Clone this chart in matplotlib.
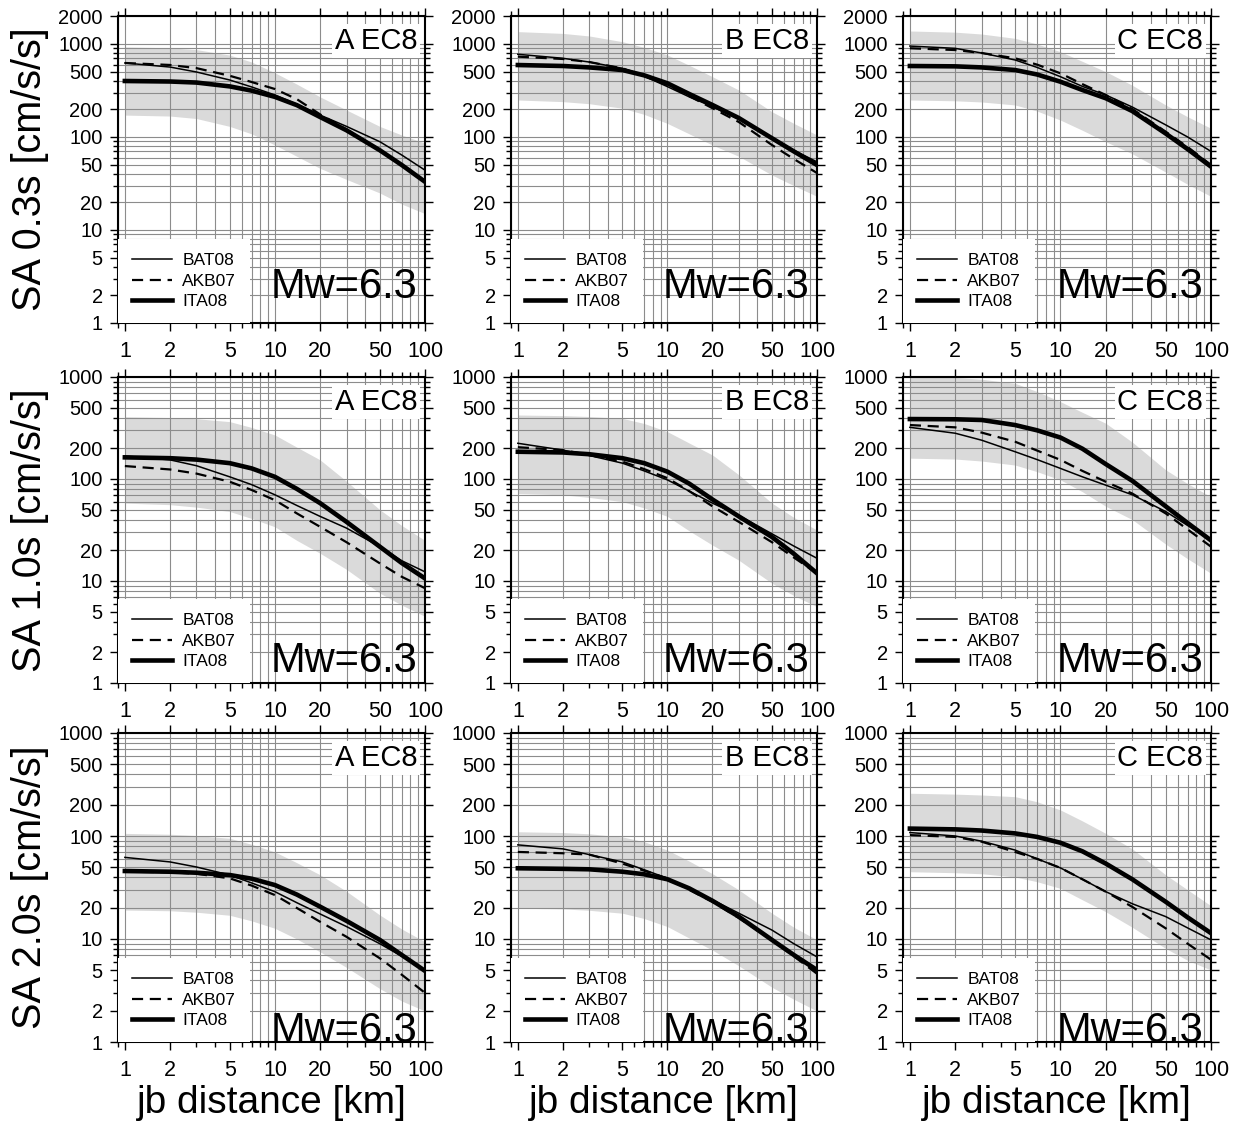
import numpy as np
import matplotlib
matplotlib.use("Agg")
import matplotlib.pyplot as plt
from matplotlib.ticker import FixedLocator, LogLocator, NullFormatter

plt.rcParams['font.family'] = ['Liberation Sans', 'DejaVu Sans']

# distances (km) the curves were read at
dist = [1, 2, 3, 5, 7, 10, 14, 20, 30, 50, 70, 100]
periods = ["0.3s", "1.0s", "2.0s"]
sites = ["A", "B", "C"]
xticks = [1, 2, 5, 10, 20, 50, 100]
yticks_top = [1, 2, 5, 10, 20, 50, 100, 200, 500, 1000, 2000]
yticks = [1, 2, 5, 10, 20, 50, 100, 200, 500, 1000]

# SA 0.3s  (sites A, B, C)
bat08_03 = [[625, 565, 500, 410, 345, 283, 225, 172, 130, 89, 64, 44],
            [775, 702, 640, 547, 450, 348, 270, 212, 155, 97, 72, 54],
            [950, 898, 800, 673, 560, 445, 350, 283, 210, 135, 100, 70]]
akb07_03 = [[625, 595, 550, 455, 390, 328, 255, 175, 120, 72, 50, 33],
            [731, 690, 640, 547, 455, 362, 275, 204, 145, 82, 58, 41],
            [900, 861, 800, 702, 600, 484, 370, 283, 200, 114, 78, 50]]
ita08_03 = [[400, 395, 385, 350, 315, 270, 220, 164, 118, 72, 50, 33],
            [594, 580, 560, 525, 460, 378, 290, 221, 160, 97, 70, 50],
            [580, 575, 560, 525, 470, 393, 320, 261, 190, 109, 74, 48]]
band_hi_03 = [[930, 910, 870, 760, 640, 490, 370, 270, 195, 130, 105, 86],
              [1358, 1300, 1220, 1059, 920, 762, 590, 445, 320, 187, 140, 105],
              [1380, 1340, 1280, 1150, 1000, 826, 650, 504, 360, 221, 165, 124]]
band_lo_03 = [[172, 168, 158, 130, 108, 82, 62, 46, 35, 25, 19, 15],
              [250, 240, 228, 204, 175, 140, 108, 82, 62, 39, 30, 23],
              [250, 245, 238, 221, 190, 152, 118, 89, 66, 42, 31, 23]]

# SA 1.0s
bat08_10 = [[168, 154, 135, 105, 88, 70, 55, 43, 33, 21.7, 15.8, 12.3],
            [224, 192, 170, 143, 120, 98, 76, 58, 44, 29, 22, 16.7],
            [321, 281, 240, 185, 155, 127, 105, 87, 70, 48, 35, 25]]
akb07_10 = [[134, 124, 113, 94, 78, 62, 46, 34, 24, 14.9, 11, 8.5],
            [205, 192, 172, 148, 125, 102, 76, 54, 38, 24, 17, 11.9],
            [338, 321, 285, 232, 190, 154, 120, 94, 72, 46, 32, 21.7]]
ita08_10 = [[163, 160, 155, 143, 127, 105, 80, 58, 38, 21.7, 15, 10.6],
            [185, 182, 175, 160, 143, 118, 90, 63, 43, 27, 18.5, 11.9],
            [387, 385, 379, 338, 300, 255, 198, 140, 96, 54, 37, 25]]
band_hi_10 = [[408, 400, 390, 365, 320, 270, 205, 154, 95, 50, 35, 25],
              [424, 418, 410, 393, 350, 291, 225, 172, 110, 58, 42, 31.6],
              [1000, 990, 950, 867, 720, 573, 450, 352, 230, 123, 90, 67]]
band_lo_10 = [[58, 56, 53, 48, 41, 34, 25, 18.7, 13, 7.6, 5.8, 4.5],
              [72, 70, 66, 60, 52, 43, 31, 22.5, 16, 9.5, 7.2, 5.6],
              [160, 157, 150, 137, 118, 98, 75, 54, 40, 23, 16.5, 11.9]]

# SA 2.0s
bat08_20 = [[62, 56, 50, 41.8, 35, 28.8, 22.5, 17.5, 13.2, 9.0, 6.8, 5.0],
            [82, 75, 66, 56, 47, 38.8, 30.5, 24, 17.8, 12.2, 9.0, 6.7],
            [108, 100, 89, 73, 60, 49, 38, 28.8, 22, 16.5, 12.8, 9.8]]
akb07_20 = [[45, 44.5, 43, 38.8, 33, 26.7, 20, 14.7, 10.5, 6.5, 4.5, 3.0],
            [70, 68, 66, 54, 46, 38.8, 30, 23, 16, 9.8, 6.8, 4.6],
            [102, 98, 88, 70, 60, 49, 38, 28.8, 20.5, 12.7, 9.0, 6.3]]
ita08_20 = [[45.7, 45, 44, 41.8, 38.5, 33.4, 27, 20.6, 15, 9.8, 7.0, 4.9],
            [48.6, 48, 47.5, 45, 42.5, 38, 31, 23.5, 16.5, 9.8, 7.0, 5.0],
            [118, 116, 113, 106, 98, 86, 71, 54, 38, 23, 16.2, 11.4]]
band_hi_20 = [[106, 104, 101, 95, 83, 70, 55, 42, 29, 17.1, 12.5, 9.4],
              [110, 108, 105, 98, 88, 73, 57, 43, 30, 17.8, 13, 9.8],
              [260, 255, 250, 241, 215, 179, 140, 106, 75, 42, 30, 21]]
band_lo_20 = [[19.1, 18.8, 18.2, 17, 15, 12.7, 10, 7.5, 5.3, 3.3, 2.5, 2.0],
              [19.9, 19.6, 19, 17.8, 15.8, 13.2, 10.2, 7.8, 5.5, 3.4, 2.6, 2.0],
              [45, 44, 43, 40, 36, 31, 24, 18.4, 13, 8.1, 6.2, 5.0]]

bat08 = [bat08_03, bat08_10, bat08_20]
akb07 = [akb07_03, akb07_10, akb07_20]
ita08 = [ita08_03, ita08_10, ita08_20]
band_hi = [band_hi_03, band_hi_10, band_hi_20]
band_lo = [band_lo_03, band_lo_10, band_lo_20]

W, H = 1235, 1123
fig = plt.figure(figsize=(W / 100, H / 100), dpi=100)

# panel frames in pixels
col_left = [118, 511, 903]
col_w = [307, 306, 308]
row_top = [16, 377, 733]
row_h = [307, 306, 309]
mw_y = [0.08, 0.036, 0.0]

for r in range(3):
    for c in range(3):
        ax = fig.add_axes([col_left[c] / W, 1 - (row_top[r] + row_h[r]) / H,
                           col_w[c] / W, row_h[r] / H])
        ax.set_xscale('log')
        ax.set_yscale('log')

        ax.fill_between(dist, band_lo[r][c], band_hi[r][c], color='#dadada',
                        lw=0, zorder=0.3)
        ax.plot(dist, bat08[r][c], color='k', lw=1.1, label='BAT08', zorder=3)
        ax.plot(dist, akb07[r][c], color='k', lw=1.6, ls=(0, (5, 3)),
                label='AKB07', zorder=3)
        ax.plot(dist, ita08[r][c], color='k', lw=3.3, label='ITA08', zorder=3,
                solid_joinstyle='round')

        ax.set_xlim(0.9, 100)
        yt = yticks_top if r == 0 else yticks
        ax.set_ylim(1, yt[-1])

        ax.xaxis.set_major_locator(FixedLocator(xticks))
        ax.set_xticklabels([str(v) for v in xticks])
        ax.xaxis.set_minor_locator(LogLocator(base=10, subs=np.arange(2, 10)))
        ax.xaxis.set_minor_formatter(NullFormatter())
        ax.yaxis.set_major_locator(FixedLocator(yt))
        ax.set_yticklabels([str(v) for v in yt])
        ax.yaxis.set_minor_locator(LogLocator(base=10, subs=np.arange(2, 10)))
        ax.yaxis.set_minor_formatter(NullFormatter())

        ax.grid(True, which='both', color='#8c8c8c', lw=0.8)
        ax.tick_params(which='both', direction='out', top=True, right=True,
                       width=1)
        ax.tick_params(which='major', length=6)
        ax.tick_params(which='minor', length=3.5)
        ax.tick_params(axis='x', labelsize=15.5, pad=7)
        ax.tick_params(axis='y', labelsize=14.5, pad=5)
        for s in ax.spines.values():
            s.set_linewidth(1.5)

        ax.legend(loc='lower left', fontsize=12.5, frameon=True, fancybox=False,
                  edgecolor='none', facecolor='white', framealpha=1,
                  borderaxespad=0, handlelength=2.3, handletextpad=0.6,
                  labelspacing=0.3, borderpad=0.8)

        ax.text(0.975, 0.965, sites[c] + " EC8", transform=ax.transAxes,
                ha='right', va='top', fontsize=21, zorder=6,
                bbox=dict(facecolor='white', edgecolor='none', pad=2))
        ax.text(0.975, mw_y[r], "Mw=6.3", transform=ax.transAxes,
                ha='right', va='baseline', fontsize=30, zorder=6, clip_on=True)

    fig.text(30 / W, 1 - (row_top[r] + row_h[r] / 2) / H,
             "SA " + periods[r] + " [cm/s/s]", rotation=90,
             ha='center', va='center', fontsize=28.5)

for c in range(3):
    fig.text((col_left[c] + col_w[c] / 2) / W, 1 - 1103 / H, "jb distance [km]",
             ha='center', va='center', fontsize=28)

fig.savefig('out.png', dpi=100)
